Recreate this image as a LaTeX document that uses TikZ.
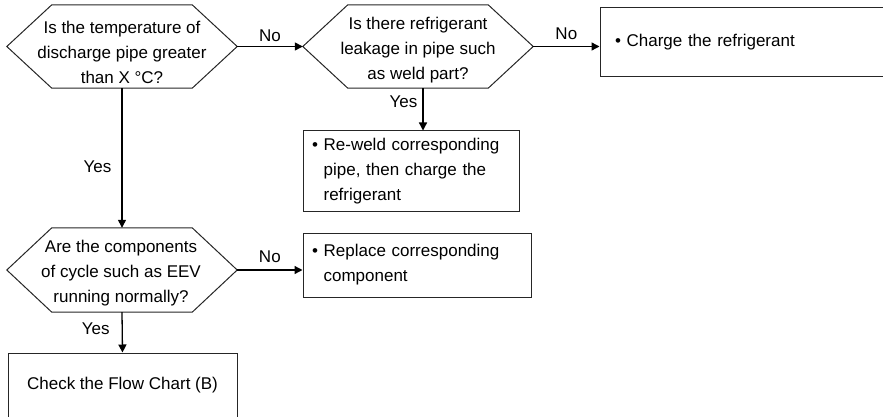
\documentclass[tikz,border=0pt]{standalone}
\usepackage{fontspec}
\setmainfont{Liberation Sans}
\usetikzlibrary{arrows.meta}
\begin{document}
\begin{tikzpicture}[x=1pt,y=-1pt,
  every node/.style={font=\fontsize{17}{25}\selectfont},
  hexq/.style={minimum width=230pt, minimum height=83pt, inner sep=0pt},
  hexline/.style={line width=1pt, draw=black!85},
  qtext/.style={align=center, inner sep=0pt},
  box/.style={draw=black!85, line width=1pt, inner ysep=0pt, align=left},
  conn/.style={line width=1.3pt, -{Triangle[length=8pt,width=8pt]}},
  lbl/.style={inner sep=0pt}
]
\useasboundingbox (0,0) rectangle (883,417);
\clip (0,0) rectangle (883,417);

% decision shapes
\node[hexq] (q1) at (122,46.5) {};
\node[hexq] (q2) at (418,46.5) {};
\node[hexq, minimum height=84pt] (q3) at (122,270) {};
\foreach \n in {q1,q2,q3}
  \draw[hexline] (\n.west) -- ([xshift=45pt]\n.north west) -- ([xshift=-45pt]\n.north east)
     -- (\n.east) -- ([xshift=-45pt]\n.south east) -- ([xshift=45pt]\n.south west) -- cycle;

\node[qtext] (q1t) at (122,52.5) {Is the temperature of\\discharge pipe greater\\than X °C?};
\node[qtext] (q2t) at (418,50) {Is there refrigerant\\leakage in pipe such\\as weld part?};
\node[qtext] (q3t) at (121,273) {Are the components\\of cycle such as EEV\\running normally?};

% action boxes
\node[box, minimum width=284pt, minimum height=69pt, text width=254pt, inner xsep=15pt] (b1) at (742,42.5) {• Charge the refrigerant};
\node[box, minimum width=216pt, minimum height=80pt, text width=198pt, inner xsep=9pt] (b2) at (411,171)
  {• Re-weld corresponding\\\phantom{•\ }pipe, then charge the\\\phantom{•\ }refrigerant};
\node[box, minimum width=228pt, minimum height=64pt, text width=210pt, inner xsep=9pt] (b3) at (417,265)
  {• Replace corresponding\\\phantom{•\ }component};
\node[box, minimum width=229pt, minimum height=65pt, align=center] (b4) at (122.5,385.5) {Check the Flow Chart (B)};

% connectors
\draw[conn] (q1.east) -- node[lbl, above=4pt] {No} (q2.west);
\draw[conn] (q2.east) -- node[lbl, above=6pt] {No} (q2.east -| b1.west);
\draw[conn] ([xshift=5pt]q2.south) -- node[lbl, left=5pt, pos=0.31] {Yes} ([xshift=5pt]q2.south |- b2.north);
\draw[conn] (q1.south) -- node[lbl, left=10pt, pos=0.56] {Yes} (q3.north);
\draw[conn] (q3.east) -- node[lbl, above=7pt] {No} (q3.east -| b3.west);
\draw[conn] (q3.south) -- node[lbl, left=12pt, pos=0.42] {Yes} (b4.north);
\end{tikzpicture}
\end{document}
